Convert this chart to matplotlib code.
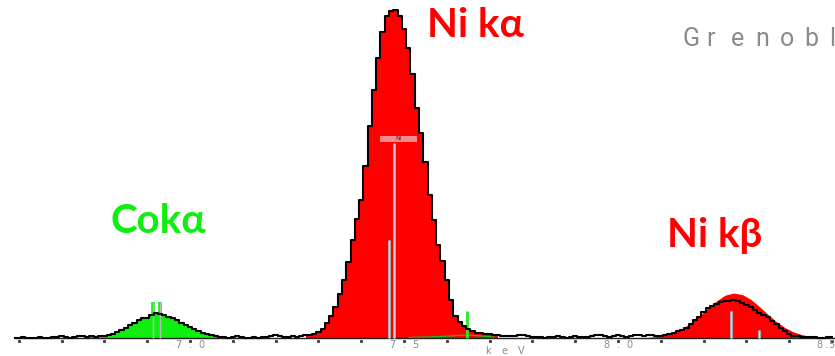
"""
EDS spectrum around the Ni K lines: Co K-alpha, Ni K-alpha and Ni K-beta.
Counts are read off the reference picture (arbitrary units, 10 eV channels).
"""

import numpy as np
import matplotlib
matplotlib.use("Agg")
import matplotlib.pyplot as plt
from matplotlib.patches import Rectangle


# measured spectrum, one value per 10 eV channel, first channel at 6.59 keV
CHANNEL_START = 6.59
CHANNEL_WIDTH = 0.01
counts = [
    # 6.59 - 6.77 background
    0, 0, 1, 0, 0, 0, 1, 0, 0, 1, 1, 2, 1, 0, 1, 2, 2, 1, 2,
    # 6.78 - 7.08 Co K-alpha
    1, 2, 2, 3, 4, 6, 8, 10, 13, 15, 18, 20, 20, 23, 25, 24, 23, 21, 20, 18,
    15, 13, 11, 9, 7, 5, 4, 3, 2, 1, 1,
    # 7.09 - 7.27 background
    0, 1, 2, 1, 0, 0, 1, 0, 1, 1, 2, 3, 2, 1, 1, 2, 1, 2, 3,
    # 7.28 - 7.71 Ni K-alpha
    3, 4, 6, 9, 15, 22, 31, 44, 58, 76, 98, 119, 138, 172, 212, 248, 280,
    306, 322, 327, 328, 322, 309, 290, 264, 230, 205, 176, 143, 118, 93, 77,
    58, 38, 22, 16, 12, 9, 7, 5, 5, 4, 4, 3,
    # 7.72 - 8.08 background
    3, 2, 2, 2, 2, 3, 3, 2, 1, 1, 1, 0, 1, 1, 2, 1, 0, 1, 2, 1, 1, 1, 2, 3,
    3, 2, 1, 2, 3, 2, 1, 2, 3, 3, 2, 3, 3,
    # 8.09 - 8.50 Ni K-beta
    2, 2, 3, 4, 5, 7, 8, 10, 14, 18, 21, 26, 30, 32, 34, 36, 37, 37, 38, 37,
    35, 33, 31, 28, 25, 23, 21, 17, 14, 10, 7, 4, 2, 2, 1, 1, 1, 1, 0, 0,
    1, 1,
]

# fitted Ni K-beta profile (red fill)
kb_fit_energy = [8.05, 8.07, 8.09, 8.11, 8.13, 8.15, 8.17, 8.19, 8.21, 8.23,
                 8.25, 8.27, 8.29, 8.31, 8.33, 8.35, 8.37, 8.39, 8.41, 8.43,
                 8.45, 8.47, 8.49]
kb_fit_counts = [0.3, 0.6, 1.4, 2.9, 5.4, 9.4, 15, 22, 30, 37, 42.8, 45,
                 43.5, 38.7, 31.6, 23.7, 16.4, 10.4, 6.1, 3.3, 1.6, 0.7, 0.3]

# fitted Co K-beta, hidden under the Ni K-alpha tail (green line)
cokb_fit_energy = [7.51, 7.56, 7.60, 7.645, 7.68, 7.71]
cokb_fit_counts = [0.5, 1.0, 1.8, 3.0, 2.0, 1.0]

# line markers
marker_energy = [6.913, 6.929, 7.465, 7.477, 7.648, 8.265, 8.329]
marker_height = [36, 36, 98, 195, 27, 27, 8]
marker_kind = ["co", "co", "ni", "ni", "cokb", "ni", "ni"]

tick_values = [7.0, 7.5, 8.0, 8.5]
tick_labels = ["7.0", "7.5", "8.0", "8.5"]

peak_labels = ["Ni kα", "Cokα", "Ni kβ"]
watermark = "Grenobl"

RED = "#ff0000"
GREEN = "#0fee0f"
GREY_TEXT = "#8a8a8a"
W, H = 835, 356
BASE_PX = 338          # pixel row of the zero line
PX_PER_KEV = 428.0


def px_to_e(x):
    return 7.0 + (x - 190) / PX_PER_KEV


def px_to_h(y):
    return BASE_PX - y


def spaced(ax, x, s, offsets, dy, **kw):
    # draw a short label one character at a time (wide letter spacing)
    for ch, dx in zip(s, offsets):
        ax.annotate(ch, xy=(x, 0), xytext=(dx, dy), textcoords="offset pixels",
                    ha="center", va="baseline", annotation_clip=False, **kw)


energy = np.round(CHANNEL_START + CHANNEL_WIDTH * np.arange(len(counts)), 2)
counts = np.array(counts, dtype=float)

fig = plt.figure(figsize=(W / 100, H / 100), dpi=100)
ax = fig.add_axes([0, 0, 1, 1])
ax.set_xlim(px_to_e(0), px_to_e(W))
ax.set_ylim(px_to_h(H), px_to_h(0))
ax.axis("off")

co_mask = (energy >= 6.76) & (energy <= 7.09)
nika_mask = (energy >= 7.27) & (energy <= 7.72)
ax.fill_between(energy, counts, where=co_mask, step="mid",
                color=GREEN, lw=0, zorder=1)
ax.fill_between(energy, counts, where=nika_mask, step="mid",
                color=RED, lw=0, zorder=1)
ax.fill_between(kb_fit_energy, kb_fit_counts, color=RED, lw=0, zorder=1)
ax.plot(cokb_fit_energy, cokb_fit_counts, color="#22bb22", lw=0.9, zorder=2)

# zero line and 0.1 keV tick dots
ax.hlines(0, energy[0], px_to_e(W), color="#222222", lw=1.0, zorder=2)
minor = np.round(np.arange(6.6, 8.51, 0.1), 1)
ax.plot(minor, np.full(len(minor), -3.0), ls="none", marker="s", ms=1.2,
        color="#444444", zorder=2)

# element line markers
for e, h, kind in zip(marker_energy, marker_height, marker_kind):
    if kind == "co":
        ax.vlines(e, 0, h, color=GREEN, lw=2.6, zorder=3)
        ax.vlines(e, 0, h, color="#b8b8b8", lw=1.0, zorder=3)
    elif kind == "cokb":
        ax.vlines(e, 0, h, color="#22ee22", lw=2.0, zorder=3)
    else:
        ax.vlines(e, 0, h, color="#9a9a9a", lw=2.2, zorder=3)
        ax.vlines(e, 0, h, color="#d4d4d4", lw=1.0, zorder=3)

# "Ni" tag on top of the K-alpha1 marker
ax.add_patch(Rectangle((px_to_e(380), px_to_h(142)), px_to_e(417) - px_to_e(380),
                       6, facecolor="#f58a8a", edgecolor="none", zorder=3))
ax.text(px_to_e(398.5), px_to_h(139), "Ni", fontsize=4.5, color="#552222",
        ha="center", va="center", zorder=4)

ax.step(energy, counts, where="mid", color="black", lw=1.5, zorder=4)

# axis labels (the last one sits against the right edge)
for v, lab in zip(tick_values, tick_labels):
    offs = [-12, 1, 11] if v < 8.4 else [-13, -6, -1]
    spaced(ax, v, lab, offs, -10.5, fontsize=7, color=GREY_TEXT)
spaced(ax, px_to_e(505), "keV", [-17, 0, 16], -15.5, fontsize=7,
       color=GREY_TEXT)

# peak names
label_font = dict(fontsize=29, fontweight="bold", va="baseline",
                  family=["Lato", "DejaVu Sans"], zorder=5)
ax.text(px_to_e(427), px_to_h(37), peak_labels[0], color=RED, **label_font)
ax.text(px_to_e(111), px_to_h(233), peak_labels[1], color=GREEN, **label_font)
ax.text(px_to_e(667), px_to_h(247), peak_labels[2], color=RED, **label_font)

# watermark, letter-spaced, running up to the right edge
for i, ch in enumerate(watermark):
    fig.text((682 + 24.5 * i) / W, 1 - 46.5 / H, ch, fontsize=18,
             family=["Roboto", "DejaVu Sans"], color=GREY_TEXT,
             ha="left", va="baseline")

fig.savefig("out.png", dpi=100)
